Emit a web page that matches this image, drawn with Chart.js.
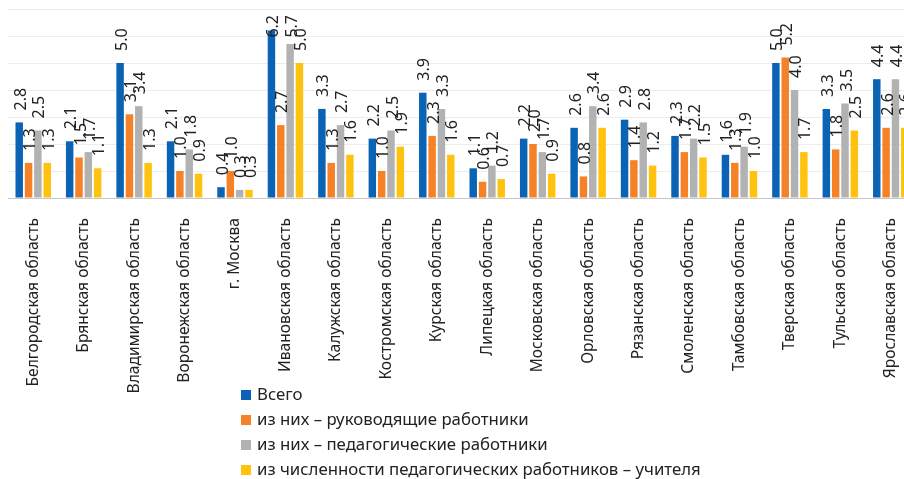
<!DOCTYPE html>
<html lang="ru">
<head>
    <meta charset="UTF-8" />
    <title>Регионы</title>
    <script src="https://cdn.jsdelivr.net/npm/chart.js"></script>
    <style>
        html, body { margin: 0; padding: 0; background: #fff; overflow: hidden; }
        #wrap { position: relative; width: 924px; height: 479px; }
        .legend { position: absolute; left: 241px; top: 381px; font-family: "Noto Sans", sans-serif; font-size: 16.8px; color: #222; }
        .legend div { height: 25px; line-height: 25px; white-space: nowrap; }
        .legend span { display: inline-block; width: 10px; height: 10px; margin-right: 6px; }
    </style>
</head>
<body>
<div id="wrap">
    <canvas id="chart"></canvas>
    <div class="legend" id="legend"></div>
</div>

<script>
    const regions = [
        'Белгородская область', 'Брянская область', 'Владимирская область', 'Воронежская область',
        'г. Москва', 'Ивановская область', 'Калужская область', 'Костромская область',
        'Курская область', 'Липецкая область', 'Московская область', 'Орловская область',
        'Рязанская область', 'Смоленская область', 'Тамбовская область', 'Тверская область',
        'Тульская область', 'Ярославская область'
    ];
    const total      = [2.8, 2.1, 5.0, 2.1, 0.4, 6.2, 3.3, 2.2, 3.9, 1.1, 2.2, 2.6, 2.9, 2.3, 1.6, 5.0, 3.3, 4.4];
    const managers   = [1.3, 1.5, 3.1, 1.0, 1.0, 2.7, 1.3, 1.0, 2.3, 0.6, 2.0, 0.8, 1.4, 1.7, 1.3, 5.2, 1.8, 2.6];
    const pedagogues = [2.5, 1.7, 3.4, 1.8, 0.3, 5.7, 2.7, 2.5, 3.3, 1.2, 1.7, 3.4, 2.8, 2.2, 1.9, 4.0, 3.5, 4.4];
    const teachers   = [1.3, 1.1, 1.3, 0.9, 0.3, 5.0, 1.6, 1.9, 1.6, 0.7, 0.9, 2.6, 1.2, 1.5, 1.0, 1.7, 2.5, 2.6];

    const seriesNames = [
        'Всего',
        'из них – руководящие работники',
        'из них – педагогические работники',
        'из численности педагогических работников – учителя'
    ];
    const colors = ['#0a63b5', '#f58226', '#b2b2b2', '#ffc20e'];

    // подписи значений над столбцами (повёрнуты на 90°)
    const valueLabels = {
        id: 'valueLabels',
        afterDatasetsDraw(chart) {
            const ctx = chart.ctx;
            ctx.save();
            ctx.font = '16px "Noto Sans", sans-serif';
            ctx.fillStyle = '#222';
            ctx.textAlign = 'left';
            ctx.textBaseline = 'middle';
            chart.data.datasets.forEach((ds, i) => {
                chart.getDatasetMeta(i).data.forEach((bar, j) => {
                    const txt = ds.data[j].toFixed(1);
                    const w = ctx.measureText(txt).width;
                    let y = bar.y - 12;
                    if (y - w < 15) y = 15 + w;
                    ctx.save();
                    ctx.translate(bar.x + 2, y);
                    ctx.rotate(-Math.PI / 2);
                    ctx.fillText(txt, 0, 0);
                    ctx.restore();
                });
            });
            ctx.restore();
        }
    };

    const values = [total, managers, pedagogues, teachers];

    new Chart(document.getElementById('chart'), {
        type: 'bar',
        data: {
            labels: regions,
            datasets: values.map((v, i) => ({
                label: seriesNames[i],
                data: v,
                backgroundColor: colors[i],
                categoryPercentage: 0.74,
                barPercentage: 0.8
            }))
        },
        options: {
            responsive: true,
            maintainAspectRatio: false,
            animation: false,
            layout: { padding: { left: 8, right: 8, top: 9, bottom: 0 } },
            plugins: { legend: { display: false }, tooltip: { enabled: false } },
            scales: {
                x: {
                    grid: { display: false },
                    border: { display: true, color: '#c6c6c6', width: 1 },
                    ticks: {
                        autoSkip: false, minRotation: 90, maxRotation: 90, padding: 12,
                        color: '#222', font: { family: '"Noto Sans", sans-serif', size: 15.6 }
                    },
                    afterFit(scale) { scale.height = 281; }
                },
                y: {
                    min: 0, max: 7,
                    ticks: { display: false, stepSize: 1 },
                    grid: { color: '#ececec', drawTicks: false },
                    border: { display: false }
                }
            }
        },
        plugins: [valueLabels]
    });

    const legend = document.getElementById('legend');
    seriesNames.forEach((name, i) => {
        const row = document.createElement('div');
        row.innerHTML = `<span style="background:${colors[i]}"></span>${name}`;
        legend.appendChild(row);
    });
</script>
</body>
</html>
